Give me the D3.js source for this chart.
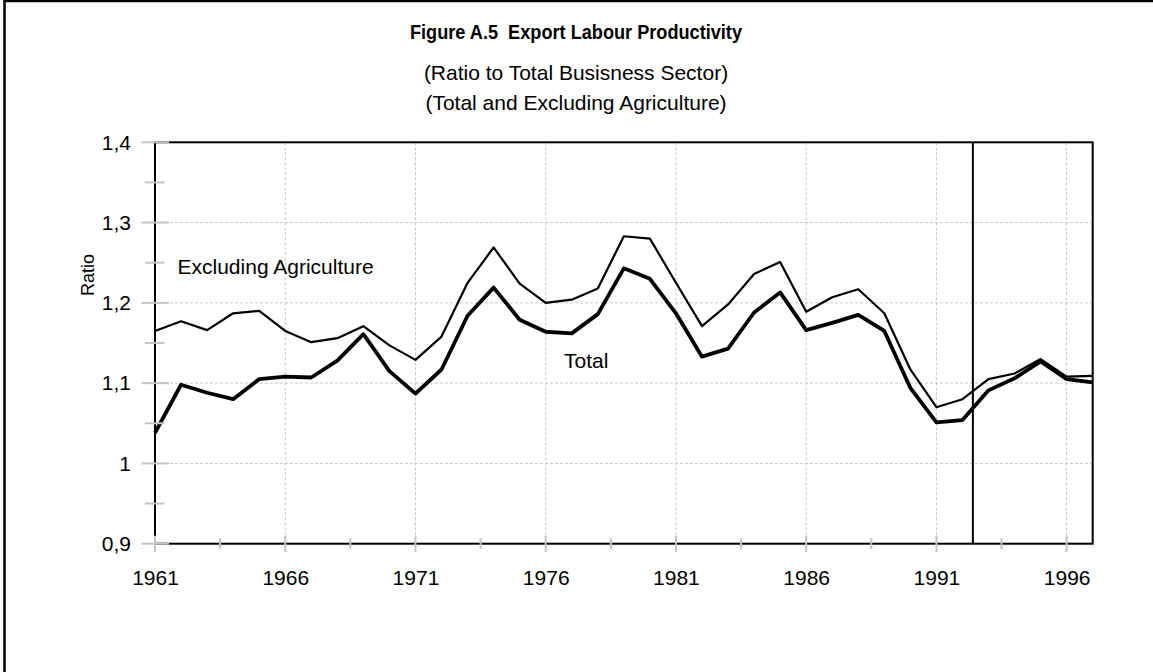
<!DOCTYPE html>
<html>
<head>
<meta charset="utf-8">
<script src="https://cdn.jsdelivr.net/npm/d3@7"></script>
<style>
  html, body { margin: 0; padding: 0; background: #fff; }
  svg { display: block; }
  text { font-family: "Liberation Sans", Arial, sans-serif; fill: #000; }
</style>
</head>
<body>
<svg id="chart" width="1153" height="672"></svg>
<script>
// ---------------- data ----------------
const years = [1961,1962,1963,1964,1965,1966,1967,1968,1969,1970,1971,1972,1973,1974,1975,1976,1977,1978,1979,1980,1981,1982,1983,1984,1985,1986,1987,1988,1989,1990,1991,1992,1993,1994,1995,1996,1997];
const excludingAgriculture = [1.165,1.177,1.166,1.187,1.190,1.165,1.151,1.156,1.171,1.147,1.129,1.158,1.225,1.269,1.224,1.200,1.204,1.218,1.283,1.280,1.225,1.171,1.198,1.236,1.251,1.189,1.207,1.217,1.187,1.117,1.070,1.080,1.105,1.112,1.130,1.108,1.109];
const total = [1.038,1.098,1.088,1.080,1.105,1.108,1.107,1.128,1.161,1.115,1.087,1.117,1.184,1.219,1.179,1.164,1.162,1.186,1.243,1.230,1.187,1.133,1.143,1.188,1.213,1.166,1.175,1.185,1.165,1.094,1.051,1.054,1.091,1.106,1.127,1.105,1.101];
const xMajorTicks = [1961,1966,1971,1976,1981,1986,1991,1996];
const xMinorTicks = [1963.5,1968.5,1973.5,1978.5,1983.5,1988.5,1993.5];
const yMajorTicks = [0.9,1.0,1.1,1.2,1.3,1.4];
const yTickLabels = ["0,9","1","1,1","1,2","1,3","1,4"];
const yMinorTicks = [0.95,1.05,1.15,1.25,1.35];
const splitYear = 1992.4;
const titleText = "Figure A.5  Export Labour Productivity";
const subtitleLines = ["(Ratio to Total Busisness Sector)", "(Total and Excluding Agriculture)"];
const yAxisTitle = "Ratio";
const seriesLabels = ["Excluding Agriculture", "Total"];

// ---------------- layout ----------------
const svg = d3.select("#chart");
const W = 1153, H = 672;
const plot = { left: 155, right: 1092.7, top: 142.3, bottom: 543.7 };

const x = d3.scaleLinear().domain([1961, 1997]).range([plot.left, plot.right]);
const y = d3.scaleLinear().domain([0.9, 1.4]).range([plot.bottom, plot.top]);

// outer frame (left + top visible)
svg.append("path")
  .attr("d", `M4.5,${H} L4.5,1 L${W},1`)
  .attr("fill", "none").attr("stroke", "#000").attr("stroke-width", 2.5);

// titles
svg.append("text").attr("x", 576).attr("y", 39).attr("text-anchor", "middle")
  .style("font-size", "21px").style("font-weight", "bold").style("white-space", "pre")
  .attr("xml:space", "preserve")
  .attr("textLength", 332).attr("lengthAdjust", "spacingAndGlyphs")
  .text(titleText);
svg.selectAll("text.sub").data(subtitleLines).enter().append("text")
  .attr("class", "sub").attr("x", 576).attr("y", (d, i) => 80 + i * 29.5)
  .attr("text-anchor", "middle").style("font-size", "21px").text(d => d);

// gridlines
const grid = svg.append("g");
grid.selectAll("line.hg").data(yMajorTicks.filter(v => v > 0.9 && v < 1.4)).enter().append("line")
  .attr("x1", plot.left).attr("x2", plot.right)
  .attr("y1", d => y(d)).attr("y2", d => y(d))
  .attr("stroke", "#c8c8c8").attr("stroke-width", 1).attr("stroke-dasharray", "3,2");
grid.selectAll("line.vg").data(xMajorTicks.filter(v => v > 1961)).enter().append("line")
  .attr("x1", d => x(d)).attr("x2", d => x(d))
  .attr("y1", plot.top).attr("y2", plot.bottom)
  .attr("stroke", "#c8c8c8").attr("stroke-width", 1).attr("stroke-dasharray", "3,2");

// plot frame and split line
svg.append("rect").attr("x", plot.left).attr("y", plot.top)
  .attr("width", plot.right - plot.left).attr("height", plot.bottom - plot.top)
  .attr("fill", "none").attr("stroke", "#000").attr("stroke-width", 2);
svg.append("line").attr("x1", x(splitYear)).attr("x2", x(splitYear))
  .attr("y1", plot.top).attr("y2", plot.bottom)
  .attr("stroke", "#000").attr("stroke-width", 2);

// series lines
const line = d3.line().x((d, i) => x(years[i])).y(d => y(d));
svg.append("path").datum(excludingAgriculture).attr("d", line)
  .attr("fill", "none").attr("stroke", "#000").attr("stroke-width", 2.2).attr("stroke-linejoin", "round");
svg.append("path").datum(total).attr("d", line)
  .attr("fill", "none").attr("stroke", "#000").attr("stroke-width", 3.8).attr("stroke-linejoin", "round");

// axes (labels via d3 axes)
const xAxis = d3.axisBottom(x).tickValues(xMajorTicks).tickFormat(d3.format("d")).tickSize(0).tickPadding(26);
const gx = svg.append("g").attr("transform", `translate(0,${plot.bottom})`).call(xAxis);
gx.select(".domain").remove();
gx.selectAll("text").style("font-size", "21px").style("font-family", "'Liberation Sans', Arial, sans-serif");

const yAxis = d3.axisLeft(y).tickValues(yMajorTicks).tickFormat((d, i) => yTickLabels[i]).tickSize(0).tickPadding(24);
const gy = svg.append("g").attr("transform", `translate(${plot.left},0)`).call(yAxis);
gy.select(".domain").remove();
gy.selectAll("text").style("font-size", "21px").style("font-family", "'Liberation Sans', Arial, sans-serif");

// tick marks (grey, crossing the axes)
const tk = svg.append("g").attr("stroke", "#c4c4c4").attr("stroke-width", 2);
tk.selectAll("line.ym").data(yMajorTicks).enter().append("line")
  .attr("x1", plot.left - 13.5).attr("x2", plot.left + 14).attr("y1", d => y(d)).attr("y2", d => y(d));
tk.selectAll("line.yn").data(yMinorTicks).enter().append("line")
  .attr("x1", plot.left - 10).attr("x2", plot.left + 9.5).attr("y1", d => y(d)).attr("y2", d => y(d));
tk.selectAll("line.xm").data(xMajorTicks).enter().append("line")
  .attr("x1", d => x(d)).attr("x2", d => x(d)).attr("y1", plot.bottom - 8).attr("y2", plot.bottom + 8.5);
tk.selectAll("line.xn").data(xMinorTicks).enter().append("line")
  .attr("x1", d => x(d)).attr("x2", d => x(d)).attr("y1", plot.bottom - 5.5).attr("y2", plot.bottom + 5.5);

// y axis title
svg.append("text").attr("transform", "translate(94,275) rotate(-90)")
  .attr("text-anchor", "middle").style("font-size", "18px").text(yAxisTitle);

// series labels
svg.append("text").attr("x", 177.5).attr("y", 274).style("font-size", "21px").text(seriesLabels[0]);
svg.append("text").attr("x", 564).attr("y", 367.5).style("font-size", "21px").text(seriesLabels[1]);
</script>
</body>
</html>
